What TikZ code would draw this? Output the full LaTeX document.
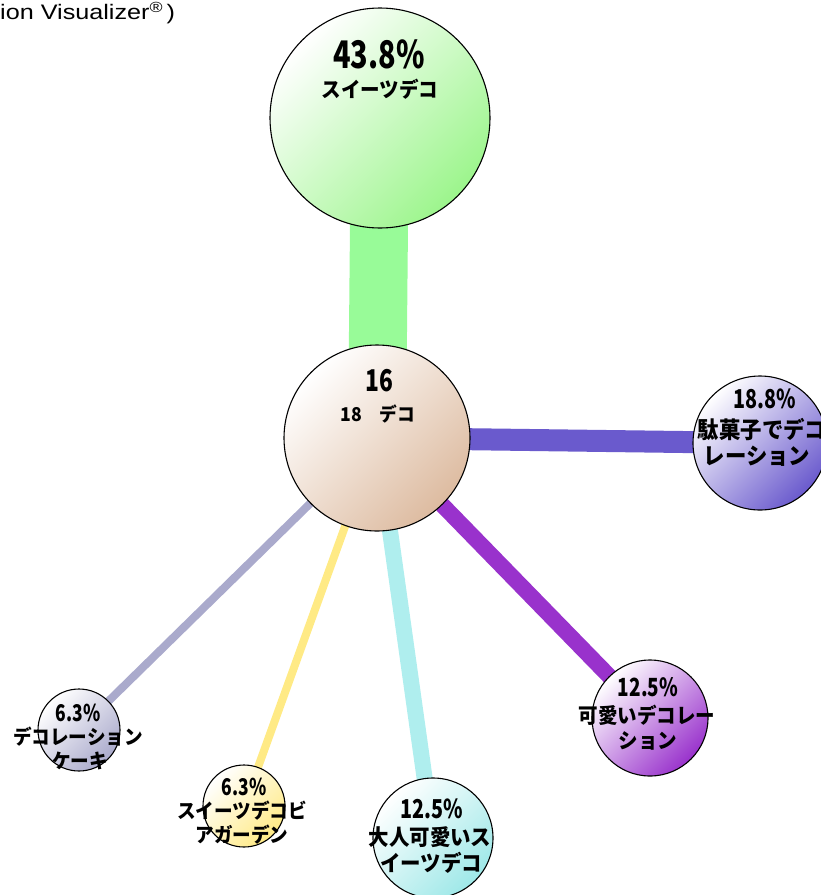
\documentclass[tikz,border=0pt]{standalone}
\usepackage{fontspec}
\setmainfont{Liberation Sans}
\newfontfamily\hdrfont{Liberation Sans}[FakeStretch=1.2]
\newfontfamily\jpn{Noto Sans CJK JP}[FakeStretch=0.76]
\newfontfamily\jpk{Noto Sans CJK JP}[FakeStretch=0.93]
\usetikzlibrary{backgrounds}
\definecolor{cgreen}{HTML}{98FB98}
\definecolor{cgreenb}{HTML}{9CF58C}
\definecolor{cpeach}{HTML}{DDBBA0}
\definecolor{cslate}{HTML}{6A5ACD}
\definecolor{corchid}{HTML}{9932CC}
\definecolor{cturq}{HTML}{AFEEEE}
\definecolor{cturqb}{HTML}{9EE8E8}
\definecolor{cyel}{HTML}{FFEA85}
\definecolor{cgray}{HTML}{AAAACC}
\tikzset{
  bub/.style={circle, draw=black, line width=1.1pt, inner sep=0pt},
  sh/.style={top color=white, bottom color=#1, shading angle=45},
  num/.style={inner sep=0pt, font=\jpn\bfseries\fontsize{#1}{#1}\selectfont},
  kana/.style={inner sep=0pt, font=\jpk\bfseries\fontsize{#1}{#1}\selectfont},
  link/.style={line width=#1, line cap=butt},
}
\begin{document}
\begin{tikzpicture}[x=1pt,y=-1pt]
\useasboundingbox (0,0) rectangle (821,895);
% bubbles
\node[bub, minimum size=220pt, sh=cgreenb] (top) at (380,118) {};
\node[bub, minimum size=186pt, sh=cpeach] (ctr) at (377,438) {};
\node[bub, minimum size=134pt, sh=cslate] (rgt) at (760,443) {};
\node[bub, minimum size=116pt, sh=corchid] (prp) at (650,718) {};
\node[bub, minimum size=82pt, sh=cgray] (gry) at (79,730) {};
\node[bub, minimum size=82pt, sh=cyel] (yel) at (244,806) {};
\node[bub, minimum size=120pt, sh=cturqb] (cyn) at (433,838) {};
% connectors
\begin{pgfonlayer}{background}
\draw[link=58pt, draw=cgreen] (top.center) -- (ctr.center);
\draw[link=22pt, draw=cslate] (ctr.center) -- (rgt.center);
\draw[link=16pt, draw=corchid] (ctr.center) -- (prp.center);
\draw[link=16pt, draw=cturq] (ctr.center) -- (cyn.center);
\draw[link=8pt, draw=cyel] (ctr.center) -- (yel.center);
\draw[link=8pt, draw=cgray] (ctr.center) -- (gry.center);
\end{pgfonlayer}
% texts
\node[num=38] (t1) at (379,54) {43.8\%};
\node[kana=21] (t2) at (380,89) {スイーツデコ};
\node[num=30] (c1) at (379,381) {16};
\node[kana=19] (c2) at (378,414) {18　デコ};
\node[num=26] (r1) at (765,399) {18.8\%};
\node[kana=23] (r2) at (762,430) {駄菓子でデコ};
\node[kana=23] (r3) at (757,456) {レーション};
\node[num=25] (p1) at (648,687) {12.5\%};
\node[kana=21] (p2) at (647,715) {可愛いデコレー};
\node[kana=21] (p3) at (648,741) {ション};
\node[num=23] (g1) at (78,713) {6.3\%};
\node[kana=20] (g2) at (78,737) {デコレーション};
\node[kana=20] (g3) at (80,761) {ケーキ};
\node[num=23] (y1) at (244,787) {6.3\%};
\node[kana=20] (y2) at (242,811) {スイーツデコビ};
\node[kana=20] (y3) at (242,835) {アガーデン};
\node[num=26] (k1) at (432,809) {12.5\%};
\node[kana=22] (k2) at (430,837) {大人可愛いス};
\node[kana=22] (k3) at (431,863) {イーツデコ};
\node[anchor=west, inner sep=0pt, font=\hdrfont\fontsize{21}{24}\selectfont] (hdr) at (0,13) {ion Visualizer\textsuperscript{®}\,)};
\end{tikzpicture}
\end{document}
